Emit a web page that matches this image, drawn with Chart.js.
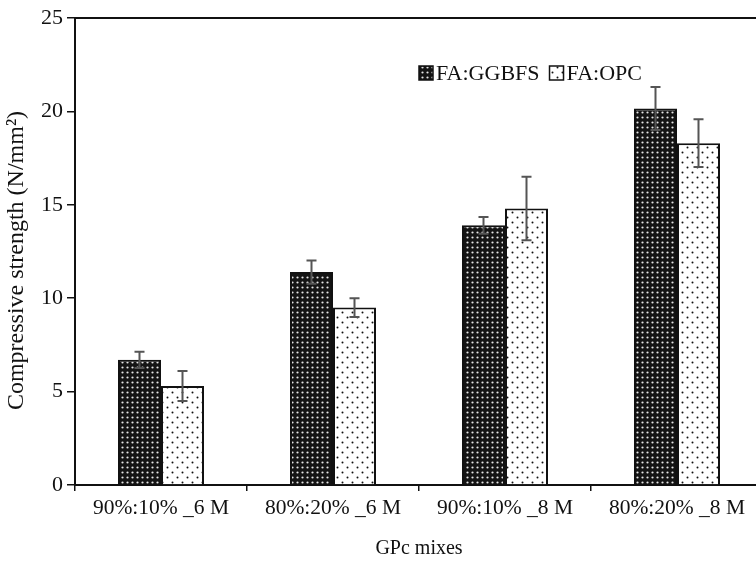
<!DOCTYPE html>
<html>
<head>
<meta charset="utf-8">
<script src="https://cdn.jsdelivr.net/npm/chart.js@4/dist/chart.umd.min.js"></script>
<style>
    html, body { margin: 0; padding: 0; background: #fff; overflow: hidden; }
    #wrap { width: 763px; height: 564px; }
</style>
</head>
<body>
<div id="wrap"><canvas id="grafico-resistencia"></canvas></div>
<script>
const misturas = ["90%:10% _6 M", "80%:20% _6 M", "90%:10% _8 M", "80%:20% _8 M"];
const valoresGgbfs = [6.7, 11.4, 13.9, 20.15];
const valoresOpc = [5.3, 9.5, 14.8, 18.3];
const erroGgbfs = [0.43, 0.62, 0.45, 1.15];
const erroOpc = [0.8, 0.5, 1.7, 1.28];
const rotulos = ["FA:GGBFS", "FA:OPC"];

const fonte = "'Liberation Serif', 'Times New Roman', serif";

const criarPadrao = (fundo, ponto, tam, raio, pontos) => {
    const c = document.createElement("canvas");
    c.width = tam;
    c.height = tam;
    const g = c.getContext("2d");
    g.fillStyle = fundo;
    g.fillRect(0, 0, tam, tam);
    g.fillStyle = ponto;
    pontos.forEach(([x, y]) => {
        g.beginPath();
        g.arc(x, y, raio, 0, Math.PI * 2);
        g.fill();
    });
    return g.createPattern(c, "repeat");
};

const padraoGgbfs = criarPadrao("#141414", "#e6e6e6", 5, 1.1, [[2.5, 2.5]]);
const padraoOpc = criarPadrao("#ffffff", "#111111", 10, 1, [[2.5, 2.5], [7.5, 7.5]]);

// barras de erro
const barrasErro = {
    id: "barrasErro",
    afterDatasetsDraw(chart) {
        const { ctx } = chart;
        const y = chart.scales.y;
        const erros = [erroGgbfs, erroOpc];
        ctx.save();
        ctx.strokeStyle = "#555";
        ctx.lineWidth = 2;
        chart.data.datasets.forEach((ds, i) => {
            chart.getDatasetMeta(i).data.forEach((barra, j) => {
                const v = ds.data[j];
                const topo = y.getPixelForValue(v + erros[i][j]);
                const base = y.getPixelForValue(v - erros[i][j]);
                ctx.beginPath();
                ctx.moveTo(barra.x, topo);
                ctx.lineTo(barra.x, base);
                ctx.moveTo(barra.x - 5, topo);
                ctx.lineTo(barra.x + 5, topo);
                ctx.moveTo(barra.x - 5, base);
                ctx.lineTo(barra.x + 5, base);
                ctx.stroke();
            });
        });
        ctx.restore();
    },
};

// linha superior e legenda dentro da area
const moldura = {
    id: "moldura",
    afterDraw(chart) {
        const { ctx, chartArea } = chart;
        ctx.save();
        ctx.strokeStyle = "#111";
        ctx.lineWidth = 2;
        ctx.beginPath();
        ctx.moveTo(chartArea.left, chartArea.top);
        ctx.lineTo(chartArea.right, chartArea.top);
        ctx.stroke();

        ctx.font = "22px " + fonte;
        ctx.textBaseline = "middle";
        const yLeg = 73;
        let x = 419;
        chart.data.datasets.forEach((ds) => {
            ctx.fillStyle = ds.backgroundColor;
            ctx.fillRect(x, yLeg - 7, 14, 14);
            ctx.lineWidth = 1.5;
            ctx.strokeStyle = "#111";
            ctx.strokeRect(x, yLeg - 7, 14, 14);
            ctx.fillStyle = "#111";
            ctx.fillText(ds.label, x + 17, yLeg + 1);
            x += 17 + ctx.measureText(ds.label).width + 10;
        });
        ctx.restore();
    },
};

new Chart(document.getElementById("grafico-resistencia").getContext("2d"), {
    type: "bar",
    data: {
        labels: misturas,
        datasets: [
            {
                label: rotulos[0],
                data: valoresGgbfs,
                backgroundColor: padraoGgbfs,
                borderColor: "#111",
                borderWidth: 2,
                borderSkipped: "bottom",
            },
            {
                label: rotulos[1],
                data: valoresOpc,
                backgroundColor: padraoOpc,
                borderColor: "#111",
                borderWidth: 2,
                borderSkipped: "bottom",
            },
        ],
    },
    options: {
        responsive: true,
        maintainAspectRatio: false,
        animation: false,
        layout: { padding: { top: 18, right: 0, left: 0, bottom: 0 } },
        datasets: { bar: { categoryPercentage: 0.5, barPercentage: 1 } },
        plugins: {
            legend: { display: false },
            tooltip: { enabled: false },
        },
        scales: {
            x: {
                grid: { drawOnChartArea: false, tickLength: 6, color: "#111", lineWidth: 1.5 },
                border: { color: "#111", width: 2 },
                ticks: { color: "#111", padding: 4, font: { family: fonte, size: 21.5 }, maxRotation: 0 },
                title: {
                    display: true,
                    text: "GPc mixes",
                    color: "#111",
                    padding: { top: 0, bottom: 3 },
                    font: { family: fonte, size: 20 },
                },
                afterFit: (escala) => { escala.height = 79; },
            },
            y: {
                min: 0,
                max: 25,
                ticks: { stepSize: 5, color: "#111", padding: 4, font: { family: fonte, size: 22 } },
                grid: { drawOnChartArea: false, tickLength: 8, color: "#111", lineWidth: 1.5 },
                border: { color: "#111", width: 2 },
                title: {
                    display: true,
                    text: "Compressive strength (N/mm²)   ",
                    color: "#111",
                    padding: { top: 2, bottom: 0 },
                    font: { family: fonte, size: 24 },
                },
                afterFit: (escala) => { escala.width = 75; },
            },
        },
    },
    plugins: [barrasErro, moldura],
});
</script>
</body>
</html>
